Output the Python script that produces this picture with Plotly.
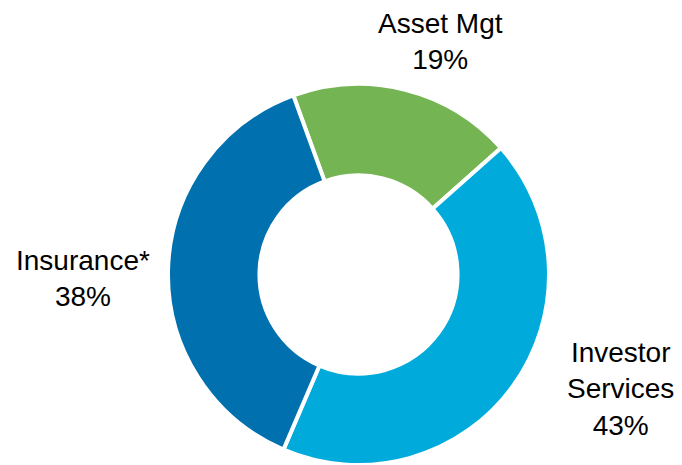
import plotly.graph_objects as go

labels = ["Asset Mgt", "Investor Services", "Insurance*"]
values = [19, 43, 38]
colors = ["#74B452", "#00AADB", "#0070AF"]
label_texts = ["Asset Mgt<br>19%", "Investor<br>Services<br>43%", "Insurance*<br>38%"]

# page body has an 8px default margin; figure sized to fill the rest of the window
W, H = 674, 457
OFF = 8

def px_x(x):
    return (x - OFF) / W

def px_y(y):
    return 1 - (y - OFF) / H

cx, cy, r = 358.5, 276, 192
fig = go.Figure(go.Pie(
    labels=labels,
    values=values,
    sort=False,
    direction="clockwise",
    rotation=-20,
    hole=0.52,
    marker=dict(colors=colors, line=dict(color="white", width=4)),
    textinfo="none",
    hoverinfo="label+percent",
    showlegend=False,
    domain=dict(x=[px_x(cx - r), px_x(cx + r)], y=[max(0, px_y(cy + r)), px_y(cy - r)]),
))

font = dict(family="Liberation Sans, Arial, sans-serif", size=28, color="#000000")
positions = [(440, 42), (620, 389), (83, 278)]
for txt, (px, py) in zip(label_texts, positions):
    fig.add_annotation(text=txt, x=px_x(px), y=px_y(py), xref="paper", yref="paper",
                       xanchor="center", yanchor="middle", showarrow=False, font=font, align="center")

fig.update_layout(width=W, height=H, margin=dict(l=0, r=0, t=0, b=0),
                  paper_bgcolor="white", plot_bgcolor="white")
fig.write_html("out.html")
